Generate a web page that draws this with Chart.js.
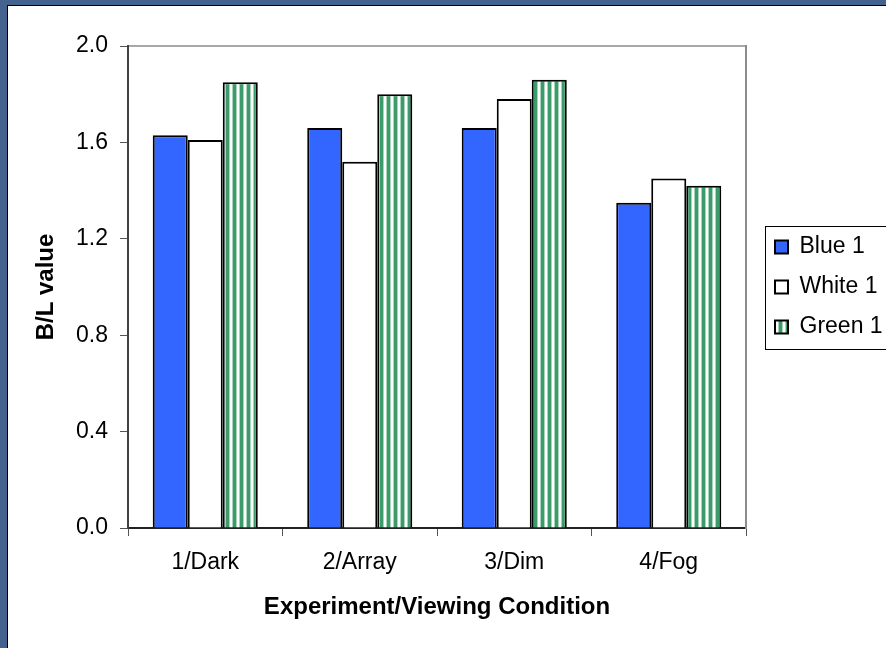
<!DOCTYPE html>
<html>
<head>
<meta charset="utf-8">
<script src="https://cdn.jsdelivr.net/npm/chart.js@4.4.1/dist/chart.umd.min.js"></script>
<style>
  html, body { margin: 0; padding: 0; }
  body { width: 886px; height: 648px; background: #43628e; position: relative; overflow: hidden; }
  #frame { position: absolute; left: 7px; top: 5px; width: 879px; height: 643px; background: #000; }
  #inner { position: absolute; left: 8px; top: 6px; width: 878px; height: 642px; background: #fff; }
  #chart { position: absolute; left: 0; top: 0; }
</style>
</head>
<body>
<div id="frame"></div>
<div id="inner"><canvas id="chart" width="878" height="642"></canvas></div>
<script>
// values
let categories = ['1/Dark', '2/Array', '3/Dim', '4/Fog']
let blue1 = [1.63, 1.66, 1.66, 1.35]
let white1 = [1.61, 1.52, 1.78, 1.45]
let green1 = [1.85, 1.80, 1.86, 1.42]
let yTicks = [0.0, 0.4, 0.8, 1.2, 1.6, 2.0]

const fontFam = "'Liberation Sans', Arial, sans-serif"

// vertical green / white stripes for the third series
let makeStripes = () => {
  const c = document.createElement('canvas')
  c.width = 7; c.height = 4
  const g = c.getContext('2d')
  g.fillStyle = '#ffffff'; g.fillRect(0, 0, 7, 4)
  g.fillStyle = '#a8d4bc'; g.fillRect(0, 0, 1, 4); g.fillRect(4, 0, 1, 4)
  g.fillStyle = '#3c9b6a'; g.fillRect(1, 0, 3, 4)
  return g.createPattern(c, 'repeat')
}

// thin frame round the legend, like the original
const legendFrame = {
  id: 'legendFrame',
  afterDraw: (chart) => {
    const hb = chart.legend.legendHitBoxes
    if (!hb || !hb.length) return
    const first = hb[0], last = hb[hb.length - 1]
    const ctx = chart.ctx
    ctx.save()
    ctx.strokeStyle = '#000'
    ctx.lineWidth = 1
    const top = Math.round(first.top - 10) + 0.5
    const bot = Math.round(last.top + last.height + 10) + 0.5
    ctx.strokeRect(Math.round(first.left - 10) + 0.5, top, 200, bot - top)
    ctx.restore()
  }
}

let createBarChart = () => {
  const ctx = document.getElementById('chart').getContext('2d')
  return new Chart(ctx, {
    type: 'bar',
    data: {
      labels: categories,
      datasets: [
        { label: 'Blue 1', data: blue1, backgroundColor: '#3366ff', borderColor: '#000', borderWidth: 2 },
        { label: 'White 1', data: white1, backgroundColor: '#ffffff', borderColor: '#000', borderWidth: 2 },
        { label: 'Green 1', data: green1, backgroundColor: makeStripes(), borderColor: '#000', borderWidth: 2 }
      ]
    },
    options: {
      responsive: false,
      animation: false,
      categoryPercentage: 0.68,
      barPercentage: 1,
      layout: { padding: { left: 0, top: 40, right: 0, bottom: 0 } },
      plugins: {
        tooltip: { enabled: false },
        legend: {
          position: 'right',
          fullSize: false,
          maxWidth: 128,
          labels: {
            color: '#000',
            font: { family: fontFam, size: 23 },
            boxWidth: 13,
            boxHeight: 13,
            padding: 17
          }
        }
      },
      scales: {
        x: {
          position: 'bottom',
          grid: { display: true, offset: true, drawOnChartArea: false, tickLength: 8, color: '#555', lineWidth: 1 },
          border: { display: true, color: '#222', width: 2 },
          ticks: { color: '#000', font: { family: fontFam, size: 23 }, padding: 13, maxRotation: 0 },
          title: {
            display: true,
            text: 'Experiment/Viewing Condition',
            color: '#000',
            font: { family: fontFam, size: 24, weight: 'bold' },
            padding: { top: 0, bottom: 26 }
          },
          afterFit: (s) => { s.height = 120 }
        },
        xTop: {
          type: 'category',
          position: 'top',
          grid: { display: false },
          ticks: { display: false },
          border: { display: true, color: '#a8a8a8', width: 2 },
          afterFit: (s) => { s.height = 0 }
        },
        y: {
          position: 'left',
          min: 0,
          max: 2,
          afterBuildTicks: (s) => { s.ticks = yTicks.map(v => ({ value: v })) },
          grid: { display: true, drawOnChartArea: false, tickLength: 8, color: '#555', lineWidth: 1 },
          border: { display: true, color: '#404040', width: 2 },
          ticks: {
            color: '#000',
            font: { family: fontFam, size: 23 },
            padding: 12,
            callback: (v) => Number(v).toFixed(1)
          },
          title: {
            display: true,
            text: 'B/L value',
            color: '#000',
            font: { family: fontFam, size: 24, weight: 'bold' },
            padding: { top: 24, bottom: 0 }
          },
          afterFit: (s) => { s.width = 120 }
        },
        yRight: {
          type: 'linear',
          position: 'right',
          grid: { display: false },
          ticks: { display: false },
          border: { display: true, color: '#8c8c8c', width: 2 },
          afterFit: (s) => { s.width = 12 }
        }
      }
    },
    plugins: [legendFrame]
  })
}

let chartInstance = createBarChart()
</script>
</body>
</html>
